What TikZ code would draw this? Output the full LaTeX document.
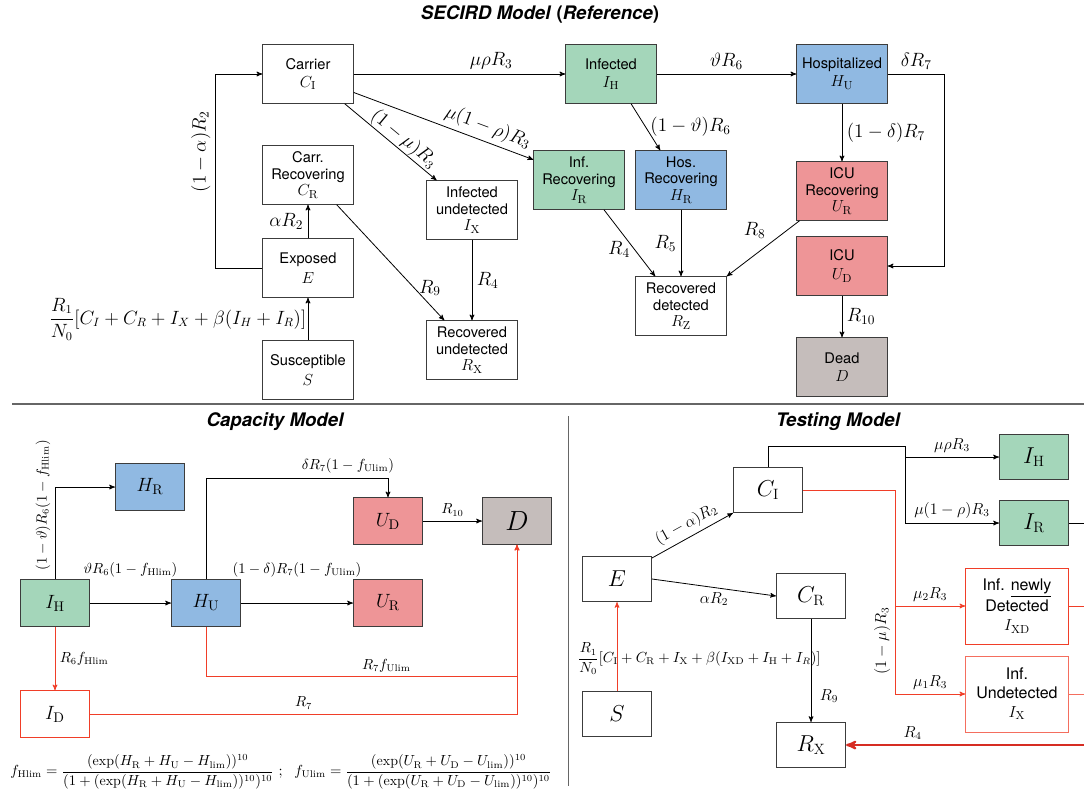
\documentclass[tikz,border=0pt]{standalone}
\usepackage{fontspec}
\setsansfont{TeX Gyre Heros}
\usepackage{amsmath}
\usepackage{tikz}
\usetikzlibrary{arrows}
\definecolor{infgreen}{RGB}{164,214,186}
\definecolor{hosblue}{RGB}{144,185,226}
\definecolor{icured}{RGB}{238,149,151}
\definecolor{deadgrey}{RGB}{197,189,187}
\definecolor{flowred}{RGB}{240,62,40}
\definecolor{deepred}{RGB}{214,45,35}
\definecolor{edgegrey}{RGB}{60,60,60}
\newcommand{\boxvar}[1]{{\fontsize{12.5}{14}\selectfont$#1$}}

\tikzset{
  comp/.style={draw=edgegrey, align=center, inner sep=1pt,
    minimum width=68pt, minimum height=44pt,
    font=\sffamily\fontsize{11}{12.5}\selectfont},
  capbox/.style={draw=edgegrey, inner sep=1pt,
    minimum width=52pt, minimum height=35pt, font=\fontsize{15}{17}\selectfont},
  tstbox/.style={capbox, minimum height=34pt, font=\fontsize{16}{18}\selectfont},
  lblbig/.style={font=\fontsize{14}{16}\selectfont},
  lblcap/.style={font=\fontsize{10.5}{12}\selectfont},
  lbltst/.style={font=\fontsize{11.5}{13}\selectfont},
  heading/.style={font=\sffamily\bfseries\itshape\fontsize{14}{16}\selectfont},
}

\begin{document}
\begin{tikzpicture}[x=0.75pt,y=-0.75pt,>=stealth',semithick]
    \useasboundingbox (0,0) rectangle (1084,801);
    \node[heading] (h1) at (540,14) {SECIRD Model \textup{(}Reference\textup{)}};
    \node[heading] (h2) at (275,422) {Capacity Model};
    \node[heading] (h3) at (838,422) {Testing Model};
    \draw[black!60, line width=1pt] (12,404) -- (1084,404);
    \draw[black!60] (568,416) -- (568,786);

    % SECIRD
    \node[comp] (C) at (308,74) {Carrier\\[1pt]\boxvar{C_{\mathrm{I}}}};
    \node[comp] (CR) at (308,175) {Carr.\\Recovering\\\boxvar{C_{\mathrm{R}}}};
    \node[comp] (E) at (308,268) {Exposed\\[2pt]\boxvar{E}};
    \node[comp] (S) at (308,370) {Susceptible\\[2pt]\boxvar{S}};
    \node[comp] (IX) at (472,210) {Infected\\undetected\\\boxvar{I_{\mathrm{X}}}};
    \node[comp] (RX) at (472,350) {Recovered\\undetected\\\boxvar{R_{\mathrm{X}}}};
    \node[comp, fill=infgreen] (IH) at (611,74) {Infected\\[1pt]\boxvar{I_{\mathrm{H}}}};
    \node[comp, fill=infgreen] (IR) at (579,180) {Inf.\\Recovering\\\boxvar{I_{\mathrm{R}}}};
    \node[comp, fill=hosblue] (HR) at (681,180) {Hos.\\Recovering\\\boxvar{H_{\mathrm{R}}}};
    \node[comp, fill=hosblue] (HU) at (842,74) {Hospitalized\\[1pt]\boxvar{H_{\mathrm{U}}}};
    \node[comp, fill=icured] (UR) at (842,191) {ICU\\Recovering\\\boxvar{U_{\mathrm{R}}}};
    \node[comp, fill=icured] (UD) at (842,266) {ICU\\[2pt]\boxvar{U_{\mathrm{D}}}};
    \node[comp] (RZ) at (681,306) {Recovered\\detected\\\boxvar{R_{\mathrm{Z}}}};
    \node[comp, fill=deadgrey] (D) at (842,367) {Dead\\[1pt]\boxvar{D}};

    \draw[->] (E.west) -- ++(-47,0) |- (C.west) node[pos=0.3, rotate=90, anchor=south, lblbig] {$(1-\alpha)R_2$};
    \draw[->] (E) -- (CR) node[midway, left, lblbig] {$\alpha R_2$};
    \draw[->] (S) -- (E) node[midway, left, inner sep=1pt, font=\fontsize{13.5}{15}\selectfont] {$\dfrac{R_1}{N_0}[C_I+C_R+I_X+\beta(I_H+I_R)]$};
    \draw[->] (C) -- (IH) node[pos=0.65, above, lblbig] {$\mu\rho R_3$};
    \draw[->] (C.338) -- (IR.156) node[pos=0.72, sloped, above, lblbig] {$\mu(1-\rho)R_3$};
    \draw[->] (C.321) -- (IX.140) node[pos=0.57, sloped, above, inner sep=0.5pt, font=\fontsize{13.5}{15}\selectfont] {$(1-\mu)R_3$};
    \draw[->] (CR.314) -- (RX.133) node[pos=0.72, right, lblbig] {$R_9$};
    \draw[->] (IX) -- (RX) node[midway, right, lblbig] {$R_4$};
    \draw[->] (IH) -- (HU) node[midway, above, lblbig] {$\vartheta R_6$};
    \draw[->] (IH.304) -- (HR.125) node[midway, right, lblbig] {$(1-\vartheta)R_6$};
    \draw[->] (HU) -- (UR) node[midway, right, lblbig] {$(1-\delta)R_7$};
    \draw[->] (HU.east) -- ++(57,0) node[midway, above, lblbig] {$\delta R_7$} |- (UD.east);
    \draw[->] (IR.310) -- (RZ.131) node[pos=0.6, left, lblbig] {$R_4$};
    \draw[->] (HR) -- (RZ) node[midway, left, lblbig] {$R_5$};
    \draw[->] (UR.215) -- (RZ.33) node[pos=0.4, above left, lblbig] {$R_8$};
    \draw[->] (UD) -- (D) node[midway, right, lblbig] {$R_{10}$};

    % Capacity
    \node[capbox, fill=hosblue] (cHR) at (150,487) {$H_{\mathrm{R}}$};
    \node[capbox, fill=icured] (cUD) at (388,521) {$U_{\mathrm{D}}$};
    \node[capbox, fill=deadgrey, font=\fontsize{21}{23}\selectfont] (cD) at (517,521) {$D$};
    \node[capbox, fill=infgreen] (cIH) at (55,603) {$I_{\mathrm{H}}$};
    \node[capbox, fill=hosblue] (cHU) at (206,603) {$H_{\mathrm{U}}$};
    \node[capbox, fill=icured] (cUR) at (388,603) {$U_{\mathrm{R}}$};
    \node[capbox, draw=flowred] (cID) at (55,714) {$I_{\mathrm{D}}$};

    \draw[->] (cIH) |- (cHR) node[pos=0.4, rotate=90, anchor=south, lblcap] {$(1-\vartheta)R_6(1-f_{\mathrm{Hlim}})$};
    \draw[->] (cIH) -- (cHU) node[midway, above=16pt, lblcap] {$\vartheta R_6(1-f_{\mathrm{Hlim}})$};
    \draw[->] (cHU) -- (cUR) node[midway, above=16pt, lblcap] {$(1-\delta)R_7(1-f_{\mathrm{Ulim}})$};
    \draw[->] (cHU.north) -- ++(0,-101) -| (cUD.north) node[pos=0.39, above, lblcap] {$\delta R_7(1-f_{\mathrm{Ulim}})$};
    \draw[->] (cUD) -- (cD) node[midway, above, lblcap] {$R_{10}$};
    \draw[->, flowred] (cIH) -- (cID) node[midway, right, lblcap, text=black] {$R_6 f_{\mathrm{Hlim}}$};
    \draw[->, flowred] (cHU.south) -- ++(0,50) -| (cD.south) node[pos=0.29, above, lblcap, text=black] {$R_7 f_{\mathrm{Ulim}}$};
    \draw[->, flowred] (cID) -| (cD.south) node[pos=0.25, above, lblcap, text=black] {$R_7$};
    \node[font=\fontsize{10.5}{12}\selectfont] (flim) at (281,772) {$f_{\mathrm{Hlim}}=\dfrac{(\exp(H_{\mathrm{R}}+H_{\mathrm{U}}-H_{\mathrm{lim}}))^{10}}{(1+(\exp(H_{\mathrm{R}}+H_{\mathrm{U}}-H_{\mathrm{lim}}))^{10})^{10}}\ ;\ \ f_{\mathrm{Ulim}}=\dfrac{(\exp(U_{\mathrm{R}}+U_{\mathrm{D}}-U_{\mathrm{lim}}))^{10}}{(1+(\exp(U_{\mathrm{R}}+U_{\mathrm{D}}-U_{\mathrm{lim}}))^{10})^{10}}$};

    % Testing
    \node[tstbox] (tCI) at (768,490) {$C_{\mathrm{I}}$};
    \node[tstbox] (tE) at (617,579) {$E$};
    \node[tstbox] (tCR) at (811,596) {$C_{\mathrm{R}}$};
    \node[tstbox] (tS) at (617,714) {$S$};
    \node[tstbox] (tRX) at (811,745) {$R_{\mathrm{X}}$};
    \node[tstbox, fill=infgreen] (tIH) at (1034,457) {$I_{\mathrm{H}}$};
    \node[tstbox, fill=infgreen] (tIR) at (1034,523) {$I_{\mathrm{R}}$};
    \node[comp, draw=flowred, minimum width=77pt, minimum height=57pt, font=\sffamily\fontsize{12}{14}\selectfont] (tIXD) at (1017,606) {Inf. \underline{newly}\\[2pt]Detected\\\boxvar{I_{\mathrm{XD}}}};
    \node[comp, draw=flowred!75, minimum width=77pt, minimum height=57pt, font=\sffamily\fontsize{12}{14}\selectfont] (tIX) at (1017,694) {Inf.\\Undetected\\\boxvar{I_{\mathrm{X}}}};
    \coordinate (tup) at (905,446);
    \coordinate (tdn) at (895,606);
    \coordinate (rim) at (1084,0);

    \draw[->] (tE.31) -- (tCI.south west) node[midway, sloped, above, lbltst] {$(1-\alpha)R_2$};
    \draw[->] (tE.east) -- (tCR.west) node[midway, below, lbltst] {$\alpha R_2$};
    \draw[->, flowred] (tS) -- (tE) node[pos=0.36, anchor=west, xshift=-33pt, text=black, font=\fontsize{10.5}{12}\selectfont] {$\dfrac{R_1}{N_0}[C_{\mathrm{I}}+C_{\mathrm{R}}+I_{\mathrm{X}}+\beta(I_{\mathrm{XD}}+I_{\mathrm{H}}+I_{R})]$};
    \draw[->] (tCR) -- (tRX) node[pos=0.75, right=3pt, lbltst] {$R_9$};
    \draw[->] (tCI.north) |- (tup) |- (tIH.west) node[pos=0.75, above, lbltst] {$\mu\rho R_3$};
    \draw[->] (tup) |- (tIR.west) node[pos=0.75, above, lbltst] {$\mu(1-\rho)R_3$};
    \draw[->, flowred] (tCI) -| (tdn) -- (tIXD) node[midway, above, lbltst, text=black] {$\mu_2R_3$};
    \draw[->, flowred] (tdn) |- (tIX) node[pos=0.75, above, lbltst, text=black] {$\mu_1R_3$} node[pos=0.2, rotate=90, anchor=south, lbltst, text=black] {$(1-\mu)R_3$};
    \draw (tIR) -- (tIR.east -| rim);
    \draw[flowred] (tIXD) -- (tIXD.east -| rim);
    \draw[flowred!75] (tIX) -- (tIX.east -| rim);
    \draw[->, deepred, line width=1.6pt] (tRX.east -| rim) -- (tRX) node[pos=0.72, above, lbltst, text=black] {$R_4$};
\end{tikzpicture}
\end{document}
